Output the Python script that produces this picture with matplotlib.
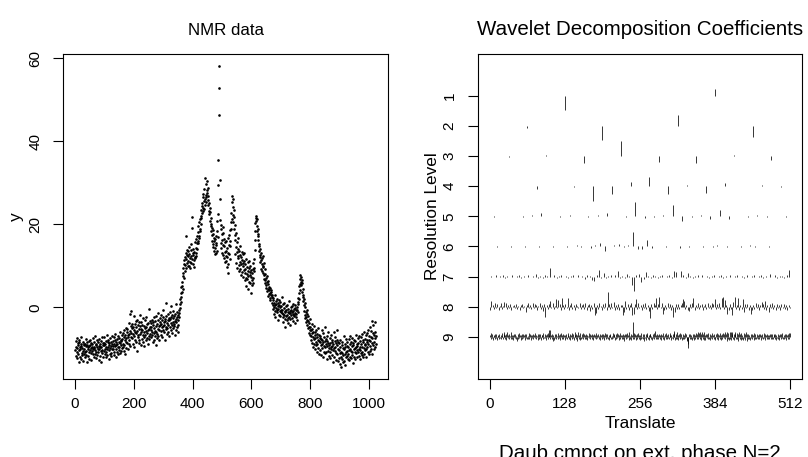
import numpy as np
import matplotlib.pyplot as plt

plt.rcParams['font.family'] = ['Liberation Sans', 'DejaVu Sans']

# NMR signal, 1024 samples
nmr_y = [
    -10.2, -8.1, -11.6, -9.4, -7.3, -12.1, -9.8, -10.7, -8.6, -11.2, -9.1, -13.2, -8.4, -10.3, -7.9, -9.6,
    -11.8, -10.1, -8.8, -12.4, -9.3, -7.0, -10.9, -9.7, -11.4, -8.2, -10.5, -12.8, -9.0, -8.7, -11.1, -9.9,
    -8.9, -10.6, -12.0, -9.2, -7.6, -10.4, -11.5, -9.0, -8.3, -13.0, -10.0, -9.5, -11.7, -8.0, -10.8, -9.3,
    -12.3, -7.8, -10.2, -9.1, -11.0, -8.5, -9.8, -12.6, -10.4, -8.7, -9.6, -11.3, -7.4, -10.1, -9.4, -11.9,
    -9.7, -8.2, -11.1, -10.3, -6.9, -9.0, -12.2, -8.8, -10.6, -9.5, -7.7, -11.4, -9.9, -10.8, -8.4, -12.7,
    -9.2, -10.0, -7.5, -11.6, -8.9, -9.6, -10.5, -13.1, -8.0, -9.4, -11.0, -7.2, -10.2, -9.1, -8.6, -11.8,
    -8.5, -10.4, -9.1, -7.0, -11.3, -8.8, -9.9, -12.0, -8.1, -10.7, -9.4, -6.6, -10.1, -11.5, -8.3, -9.6,
    -7.9, -12.4, -9.0, -10.3, -8.6, -11.1, -7.4, -9.8, -10.9, -8.2, -9.3, -11.7, -8.7, -6.9, -10.0, -9.2,
    -8.0, -9.9, -7.1, -10.6, -8.7, -11.4, -7.8, -9.2, -6.4, -10.1, -8.4, -12.0, -9.0, -7.5, -10.8, -8.9,
    -6.8, -9.6, -11.2, -8.2, -7.3, -10.3, -9.4, -5.9, -8.6, -11.0, -7.7, -9.1, -10.5, -8.1, -6.5, -9.7,
    -7.6, -9.5, -6.2, -8.8, -10.4, -7.0, -5.4, -9.1, -7.9, -11.2, -6.6, -8.3, -4.9, -7.4, -9.8, -6.0,
    -8.6, -5.2, -10.1, -7.1, -6.7, -3.8, -8.9, -6.3, -7.8, -1.6, -5.7, -9.3, -4.4, -7.2, -0.9, -6.1,
    -5.0, -7.3, -3.9, -6.4, -8.8, -4.6, -2.1, -6.9, -5.3, -9.6, -4.0, -7.7, -5.9, -3.2, -8.2, -6.1,
    -4.8, -10.4, -5.6, -2.9, -7.0, -4.3, -6.6, -8.5, -3.6, -5.2, -7.9, -4.5, -1.8, -6.3, -9.0, -5.1,
    -6.0, -3.4, -7.6, -5.3, -4.1, -8.4, -6.7, -2.6, -5.8, -7.1, -4.4, -9.2, -5.0, -3.0, -6.5, -7.9,
    -4.8, -5.6, -2.3, -7.3, -6.2, -4.0, -8.7, -5.4, -3.7, -6.9, -0.4, -5.1, -7.5, -4.6, -6.3, -3.2,
    -5.3, -7.2, -3.8, -4.7, -6.6, -2.9, -5.9, -8.3, -4.2, -3.5, -6.1, -7.7, -4.9, -2.4, -5.6, -6.8,
    -3.3, -9.0, -4.5, -5.8, -2.0, -6.4, -4.0, -7.4, -3.1, -5.2, -6.9, -1.3, -4.4, -5.5, -7.9, -3.6,
    -4.2, -2.5, -5.7, -3.9, -6.6, -1.8, -4.8, -3.1, -7.2, -4.5, -2.2, -5.4, -0.5, -3.6, -6.0, -4.1,
    -2.8, -7.8, -3.3, -5.1, 1.2, -4.6, -2.0, -6.3, -3.7, -4.9, -1.5, -5.8, -3.0, -4.3, -6.9, -2.6,
    -3.1, -4.6, -1.2, -2.7, -5.5, -3.8, 0.4, -2.2, -4.1, -6.2, -1.9, -3.4, -2.5, -5.0, -0.8, -3.9,
    -2.0, -4.4, -6.5, -1.5, -3.2, -2.8, -5.3, 0.9, -3.6, -4.8, -1.0, -2.4, -6.0, -3.0, -4.2, -1.7,
    -2.3, -0.6, -1.4, 0.8, -0.2, 2.1, 1.3, 3.5, 2.6, 4.9, 3.8, 6.2, 5.1, 7.6, 4.4, 8.3,
    9.6, 7.2, 10.5, 11.4, 8.9, 12.1, 10.2, 13.0, 9.4, 11.7, 17.1, 12.6, 10.8, 13.8, 9.9, 12.4,
    11.2, 13.5, 10.1, 12.8, 14.6, 9.5, 12.0, 11.0, 13.9, 10.6, 12.3, 15.2, 19.2, 11.7, 21.8, 13.1,
    10.4, 12.7, 14.1, 11.5, 9.8, 13.4, 12.2, 15.8, 11.9, 14.3, 16.5, 13.0, 12.5, 15.4, 17.3, 14.0,
    16.0, 18.2, 15.4, 19.7, 17.1, 20.6, 16.8, 19.0, 21.3, 18.5, 22.0, 20.1, 23.4, 21.6, 24.3, 22.7,
    25.2, 23.1, 26.5, 24.0, 27.4, 25.6, 23.8, 28.6, 26.1, 24.7, 31.2, 27.0, 25.3, 29.8, 26.6, 28.2,
    27.5, 30.4, 25.9, 28.8, 24.6, 26.9, 23.2, 25.1, 22.4, 24.0, 20.8, 22.9, 19.6, 21.5, 18.3, 20.2,
    17.4, 19.1, 16.0, 18.6, 15.3, 17.7, 14.5, 16.8, 13.6, 15.9, 12.9, 16.4, 14.2, 17.2, 13.1, 15.6,
    15.0, 18.4, 13.7, 20.9, 17.0, 22.6, 29.4, 35.6, 58.2, 52.9, 46.3, 30.6, 26.2, 21.0, 18.8, 15.5,
    19.9, 14.3, 17.6, 13.0, 16.2, 19.4, 12.6, 15.1, 17.9, 11.8, 14.7, 16.5, 13.3, 10.9, 15.8, 12.4,
    13.6, 11.2, 15.9, 9.8, 14.4, 12.1, 16.7, 10.5, 13.2, 8.3, 15.0, 12.8, 17.4, 11.6, 14.9, 18.6,
    16.1, 20.5, 19.0, 22.8, 21.4, 25.3, 26.9, 24.1, 22.2, 26.2, 20.6, 23.5, 18.9, 21.7, 17.5, 19.8,
    16.3, 12.9, 18.0, 14.6, 10.7, 15.8, 13.4, 9.6, 14.1, 11.8, 16.6, 12.3, 8.9, 13.7, 10.2, 12.6,
    9.3, 14.8, 11.0, 7.9, 12.2, 10.5, 13.3, 8.6, 11.5, 9.9, 12.8, 7.4, 10.8, 13.0, 9.1, 11.3,
    8.2, 10.4, 6.5, 9.3, 11.6, 7.1, 5.2, 9.8, 8.0, 6.9, 10.9, 7.6, 4.4, 8.8, 9.5, 6.2,
    11.2, 7.8, 5.9, 8.5, 10.1, 3.6, 7.3, 9.0, 6.6, 8.3, 5.5, 10.6, 7.0, 9.2, 6.0, 8.7,
    9.4, 11.7, 13.9, 16.2, 18.5, 20.3, 21.5, 22.1, 20.9, 19.6, 21.2, 18.4, 17.1, 19.0, 16.3, 17.8,
    15.2, 13.6, 14.9, 12.1, 14.0, 10.9, 12.7, 9.3, 11.5, 13.2, 10.4, 8.8, 11.9, 9.7, 12.4, 10.0,
    8.4, 10.6, 6.9, 7.7, 9.2, 5.8, 6.6, 8.1, 4.7, 7.0, 5.3, 6.2, 3.9, 7.5, 4.5, 5.6,
    2.8, 6.4, 4.1, 3.3, 5.0, 2.2, 4.8, 3.6, 1.7, 4.2, 2.9, 3.8, 1.2, 3.1, 2.5, 0.6,
    1.8, -0.4, 2.3, 0.2, -1.6, 1.0, 2.9, -0.9, 0.6, -2.4, 1.5, -0.1, 0.9, -1.2, 2.1, -0.6,
    0.3, -3.0, 1.2, -0.3, 0.7, -1.8, 1.9, -0.8, 0.1, -2.1, 1.4, -1.0, 0.4, -0.5, 2.6, -1.4,
    -0.7, -2.3, 0.8, -1.5, -3.4, -0.2, -1.9, 1.1, -2.8, -0.9, -4.6, -1.2, 0.3, -2.0, -0.5, -3.1,
    -1.7, 0.6, -2.5, -1.0, -3.8, -0.3, -1.4, -2.2, 1.5, -0.8, -2.7, -1.3, -4.1, 0.0, -1.8, -0.6,
    -1.1, -2.6, 0.4, -0.9, -3.2, -1.6, 0.9, -2.1, -0.4, -1.8, -3.7, -0.2, -1.3, 0.7, -2.4, -0.7,
    -1.5, 0.2, -2.9, -0.5, 1.3, -1.0, 2.4, 0.8, 3.6, 2.0, 5.1, 4.3, 6.8, 5.6, 7.9, 6.2,
    7.4, 5.3, 6.5, 3.8, 5.9, 2.6, 4.4, 1.5, 3.1, 0.7, 2.0, -0.8, 1.2, -1.9, 0.1, -2.6,
    -1.0, -3.5, -2.2, -0.6, -4.3, -2.9, -1.6, -5.0, -3.3, -2.0, -4.8, -6.1, -3.7, -5.4, -2.8, -6.6,
    -4.7, -6.9, -5.5, -7.8, -3.9, -6.2, -8.5, -5.1, -7.0, -9.4, -6.0, -4.4, -7.6, -8.8, -5.8, -10.0,
    -6.7, -7.3, -9.1, -5.3, -8.2, -6.4, -10.6, -7.1, -8.9, -4.9, -7.7, -9.7, -6.5, -8.0, -11.1, -7.4,
    -8.3, -10.2, -6.8, -9.0, -11.5, -7.5, -8.7, -5.4, -9.8, -7.9, -12.0, -8.4, -6.2, -10.6, -9.2, -7.1,
    -11.0, -8.0, -4.6, -9.5, -10.8, -7.6, -8.9, -12.3, -6.9, -9.3, -8.1, -10.4, -5.9, -8.6, -11.7, -9.7,
    -9.1, -7.3, -10.7, -8.5, -12.1, -9.6, -6.5, -10.0, -8.2, -11.4, -9.3, -7.8, -13.0, -8.9, -10.3, -6.0,
    -9.8, -11.9, -8.0, -10.5, -7.2, -9.4, -12.6, -8.6, -10.9, -5.5, -9.0, -11.2, -7.7, -10.1, -8.4, -12.8,
    -10.3, -12.2, -8.6, -11.0, -13.7, -9.5, -7.9, -11.8, -10.6, -14.3, -9.0, -12.5, -8.2, -10.9, -13.1, -9.8,
    -11.5, -6.8, -10.1, -12.9, -8.9, -11.3, -9.4, -13.8, -10.7, -7.5, -12.0, -9.2, -11.6, -10.4, -8.4, -12.4,
    -9.6, -11.2, -7.6, -10.3, -12.7, -8.8, -9.9, -11.8, -6.9, -10.5, -8.3, -12.2, -9.3, -10.8, -7.3, -11.5,
    -9.1, -13.4, -8.6, -10.0, -11.9, -7.9, -9.7, -12.5, -10.6, -8.1, -11.0, -9.4, -6.6, -10.2, -12.0, -8.9,
    -9.2, -7.4, -10.8, -8.5, -11.7, -9.9, -6.8, -10.3, -8.0, -12.3, -9.4, -7.1, -10.9, -8.8, -11.4, -6.3,
    -9.6, -10.6, -7.9, -12.0, -8.4, -9.8, -5.8, -11.1, -8.7, -10.2, -7.5, -9.1, -11.8, -6.7, -10.0, -8.2,
    -7.7, -9.6, -6.2, -8.9, -10.8, -5.4, -7.9, -11.3, -6.8, -9.2, -4.6, -8.1, -10.4, -7.0, -5.7, -9.9,
    -8.5, -3.3, -7.4, -11.1, -6.1, -9.0, -4.1, -8.3, -10.0, -6.5, -7.3, -3.6, -9.4, -5.8, -8.8, -6.9,
]

# wavelet detail coefficients per resolution level (arbitrary units)
d1 = [-50, 23]
d2 = [-9, -50, 39, -39]
d3 = [-3, 5, -24, 50, -22, -24, 3, -13]
d4 = [2, 1, -10, 2, -4, -50, -27, 15, 33, -27, 3, -24, 10, 1, 5, -2]
d5 = [-3, 2, 2, -3, 5, 10, 2, -2, 3, 2, -2, 6, 12, 2, -3, 50,
      -6, -3, 4, 40, -15, -3, 3, -9, 22, -8, 2, -3, 3, -2, 2, -3]
d6 = [2, -2, 2, 1, -2, 2, 2, -2, 2, 2, -2, 2, 3, -2, 2, 3,
      -3, 2, 4, -3, 2, -4, 4, 13, -15, 3, 5, 8, -3, 4, 50, -10,
      -10, 22, -5, 3, 2, -3, 2, 3, -5, 2, -2, 2, 3, -2, 2, -2,
      6, 2, -2, 2, 2, -2, 3, 5, -2, 3, 2, -2, 2, 3, 2, 2]
d7 = [3, -2, 4, -3, 2, 5, -4, 3, -2, 6, -3, 2, 4, -5, 3, -2,
      5, -3, 2, 7, -4, 3, -6, 4, 2, 28, -3, 5, -4, 2, 6, -3,
      3, -5, 2, 4, -3, 6, -2, 3, -7, 5, 2, -12, -15, 4, 24, -5,
      12, -4, 3, 6, -3, 5, 20, -6, 3, -4, 7, 2, -30, -50, 4, 10,
      -20, -8, 15, 3, -5, 4, 2, -6, 3, 5, -3, 2, 4, -4, 20, 15,
      -3, 18, 5, -4, 12, 3, -5, 2, 4, -3, 6, -2, 3, -4, 2, 5,
      -3, 2, 4, -5, 3, -2, 6, -3, 2, 4, -2, 3, -4, 5, -3, 2,
      4, -3, 2, 5, -4, 3, -2, 10, -3, 4, -5, 2, 3, -4, 6, 24]
d8 = [-10, 20, 6, -8, 12, -5, 9, -13, 4, 11, -7, 3, 15, 14, -9, 5,
      -6, 8, -11, 4, 7, -4, 10, -8, 3, -12, 6, 9, -5, 4, -20, 7,
      11, -6, 5, -9, 13, -4, 8, 6, -10, 3, 12, -7, 5, -14, 9, -35,
      6, -8, 10, 20, -5, 12, -9, 4, 25, -6, 22, 8, -11, 30, 5, -7,
      9, -5, 30, -12, 7, 14, -8, 6, -13, 10, 4, -6, 11, -9, 5, 8,
      -7, 12, -10, 6, 9, -14, 5, -8, 13, -30, -22, 7, -9, 11, 4, -12,
      8, -6, 14, -10, 52, 9, -7, 12, -5, 15, -11, 6, -8, 10, -13, 7,
      5, -30, -18, 20, -7, 9, -12, 6, 11, -30, -24, 8, 25, -9, 12, -6,
      7, -11, 9, -5, 13, -8, 6, -14, -40, 10, -7, 12, 5, 30, -9, 8,
      35, -6, 11, -25, -10, 7, -8, 14, -5, 9, -12, 6, -35, -20, 8, -7,
      10, -9, 6, 12, 25, 18, -8, 5, -11, -15, 9, -6, 13, 30, -10, 7,
      -5, 11, -8, 6, 9, -13, 4, 10, -7, 12, -6, 5, -9, 14, 8, 25,
      -7, 10, -5, 12, -9, 30, 35, -8, 22, 6, -25, -12, 9, -7, -30, 15,
      35, -8, 6, 30, -11, 7, -9, 25, -20, 10, -6, 8, -12, 5, -25, -10,
      7, -9, 12, -5, 10, -13, 6, 15, 9, -7, 20, -11, 5, -20, 8, -6,
      11, -8, 6, -12, 9, -5, 7, -10, 10, -6, 8, -9, 5, -11, 7, -6]
d9 = [5, -8, 12, -3, 9, -11, 4, 7, -6, 10, -4, 8, -12, 3, 6, -9, 11, -5, 7, -8, 4, 12, -6, 9, 18, -7, 5, -10, 8, 15, -4, 6,
      -9, 11, 4, -6, 16, -8, 7, -12, 5, 9, -5, 10, -7, 3, -15, 8, -6, 12, -4, 7, -10, 5, 9, -8, 11, -3, 6, -11, 8, -5, 10, -7,
      4, -9, 12, -6, 8, 5, -11, 7, -4, 10, -8, 6, 13, -5, -9, 7, 4, -12, 9, -6, 11, -3, 8, -10, 5, 7, -8, 12, -5, 9, -4, 6,
      -11, 8, -6, 12, 5, 25, -9, 22, 7, -8, 10, -15, 6, -12, 9, -5, 11, -7, 4, 13, -9, 6, -4, 8, -10, 12, -6, 5, 9, -8, 7, -11,
      6, -5, 10, -9, 7, 12, -6, 4, -11, 8, 5, -7, 13, -4, 9, -10, 6, 15, -8, 11, -14, 7, 16, -9, 5, -12, 14, -6, 8, -5, 12, -7,
      9, -8, 5, 11, -6, 7, -10, 4, 12, -5, 8, -9, 6, 10, -7, 5, -11, 9, -4, 7, 12, -8, 6, -5, 10, -9, 4, 8, -12, 7, -6, 11,
      -5, 8, -10, 6, 13, -7, 9, -4, 11, -8, 5, -12, 7, 10, -6, 4, -9, 12, -5, 8, 6, -11, 9, -7, 14, -4, 8, -10, 6, 12, -8, 5,
      -9, 7, 11, -6, 5, -13, 9, 8, -7, 12, -5, 6, -10, 15, -8, 4, 11, -12, 7, 50, -9, 13, -6, 8, -11, 5, 10, -7, 12, -8, 6, -10,
      7, -9, 12, -5, 8, -6, -15, 10, -4, 9, -11, 6, 13, -7, 5, -10, 8, 11, -6, 4, -12, 9, -5, 14, -8, 20, 7, -6, 11, -9, 5, -7,
      10, -8, 6, -12, 9, 5, -7, 13, -10, 4, 8, -6, 12, -9, 7, -5, 11, -8, 6, 14, -11, 7, -4, 9, -7, 12, 20, -10, 8, -6, 15, -9,
      6, -11, 9, -7, 13, -5, 8, -12, 10, -6, 7, -9, 12, -4, 9, -14, -10, -25, -38, 8, -7, 11, -9, 6, -12, 10, -5, 8, -11, 7, -6, 12,
      -8, 10, 18, -7, 12, -9, 15, 8, -11, 18, -6, 9, 16, -10, 7, -12, 11, -5, 9, -8, 13, -6, 10, -11, 7, -4, 12, -9, 6, -7, 10, -5,
      -10, 8, 12, -6, 9, -11, 7, 14, -8, 5, -12, 10, -7, 13, -5, 9, 18, -9, 11, -13, 16, -7, 12, -10, 18, -8, 15, -12, 9, 17, -6, 11,
      -12, 8, 18, -9, 14, -7, 10, -13, 16, -6, 9, -11, 12, -8, 7, -10, 13, -5, 9, -12, 15, -14, 10, -7, 8, -9, 6, -11, 11, -5, 9, -8,
      7, -10, 12, -6, 9, -8, 11, -5, 7, -9, 10, -6, 8, -11, 6, -4, 9, -7, 12, -5, 8, -10, 6, -8, 11, -6, 7, -9, 5, 10, -7, 8,
      -6, 9, -8, 5, 11, -7, 8, -10, 6, -5, 9, -8, 7, -11, 10, -6, 8, -4, 12, -7, 6, -9, 10, -5, 8, -11, 7, -6, 9, -8, 12, 14]

levels = [d1, d2, d3, d4, d5, d6, d7, d8, d9]
n_translate = 512

fig = plt.figure(figsize=(8.08, 4.57), dpi=100)
W, H = 808, 457
ax1 = fig.add_axes([63.3 / W, (H - 379) / H, 324.7 / W, 325.5 / H])
ax2 = fig.add_axes([477.7 / W, (H - 379) / H, 324.6 / W, 325.5 / H])

tick_fs = 11
lab_fs = 12.4
title_fs = 14.8

def r_style(ax):
    for s in ax.spines.values():
        s.set_linewidth(0.8)
    ax.tick_params(direction='out', length=7.2, width=0.8, labelsize=tick_fs)
    ax.tick_params(axis='x', pad=5.5)
    ax.tick_params(axis='y', pad=8)
    for lab in ax.get_yticklabels():
        lab.set_rotation(90)
        lab.set_va('center')

# left: raw data
y = np.array(nmr_y)
x = np.arange(1, len(y) + 1)
ax1.plot(x, y, 'o', color='black', ms=1.9, mew=0)
xr = x.max() - x.min()
yr = y.max() - y.min()
ax1.set_xlim(x.min() - 0.04 * xr, x.max() + 0.04 * xr)
ax1.set_ylim(y.min() - 0.04 * yr, y.max() + 0.04 * yr)
ax1.set_xticks([0, 200, 400, 600, 800, 1000])
ax1.set_yticks([0, 20, 40, 60])
ax1.set_ylabel('y', fontsize=lab_fs)
ax1.yaxis.set_label_coords(-0.121, 0.5)
r_style(ax1)
fig.text((63.3 + 324.7 / 2) / W, 1 - 35 / H, 'NMR data', ha='center', va='baseline', fontsize=12.2)

# right: coefficients, global scaling
big = max(max(abs(v) for v in d) for d in levels)
sf = 0.5 / big
for j, d in enumerate(levels, start=1):
    d = np.array(d, dtype=float)
    pos = (np.arange(len(d)) + 0.5) * n_translate / len(d)
    ax2.vlines(pos, j, j - d * sf, color='black', lw=0.55)
ax2.set_xlim(-0.04 * n_translate, 1.04 * n_translate)
ax2.set_ylim(10.4, -0.4)
ax2.set_xticks([0, 128, 256, 384, 512])
ax2.set_yticks(range(1, 10))
ax2.set_xlabel('Translate', fontsize=lab_fs, labelpad=4)
ax2.set_ylabel('Resolution Level', fontsize=lab_fs)
ax2.yaxis.set_label_coords(-0.1156, 0.5)
r_style(ax2)
fig.text((477.7 + 324.6 / 2) / W, 1 - 35 / H, 'Wavelet Decomposition Coefficients',
         ha='center', va='baseline', fontsize=title_fs)
fig.text((477.7 + 324.6 / 2) / W, 1 - 459 / H, 'Daub cmpct on ext. phase N=2',
         ha='center', va='baseline', fontsize=title_fs)

fig.savefig('out.png', dpi=100)
